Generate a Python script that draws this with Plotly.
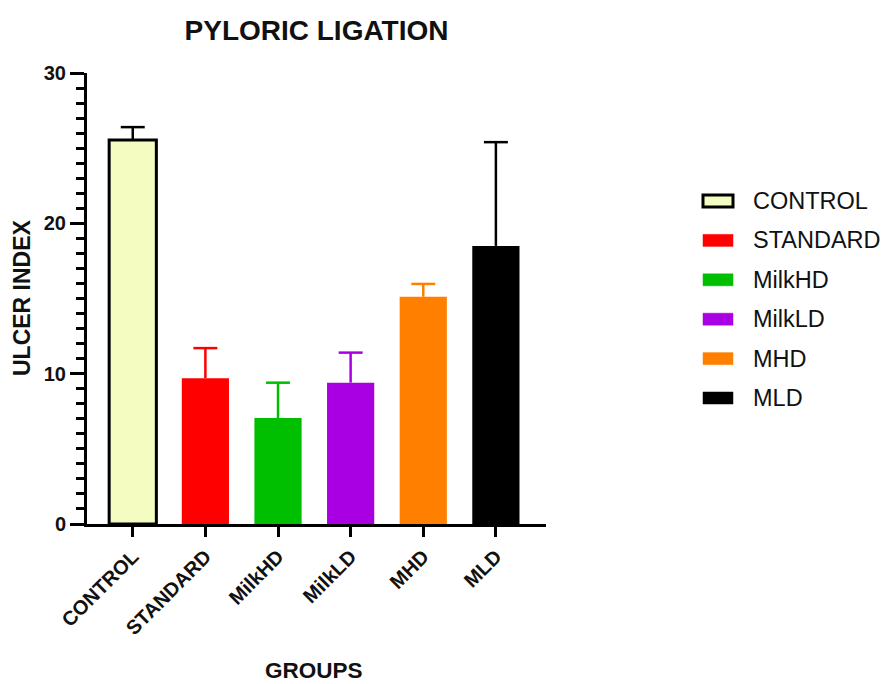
import plotly.graph_objects as go

# Ulcer index by group, pyloric ligation model (mean and upper error)
groups = ["CONTROL", "STANDARD", "MilkHD", "MilkLD", "MHD", "MLD"]
means = [25.55, 9.7, 7.05, 9.4, 15.12, 18.5]
errors = [0.85, 2.0, 2.35, 2.0, 0.85, 6.9]
fill_colors = ["#f4fcc2", "#ff0000", "#00bf00", "#a900e3", "#ff8000", "#000000"]
edge_colors = ["#000000", "#ff0000", "#00bf00", "#a900e3", "#ff8000", "#000000"]
edge_widths = [3, 0, 0, 0, 0, 0]
err_colors = ["#000000", "#ff0000", "#00bf00", "#a900e3", "#ff8000", "#000000"]
y_ticks = [0, 10, 20, 30]

W, H = 883, 684
L, R, T, B = 87, 546, 73, 524  # plot area in pixels
X_RANGE = [-0.63, 5.69]
CAP = 0.165  # half cap width, in category units

FONT = "Liberation Sans, Arial, Helvetica, sans-serif"

positions = list(range(len(groups)))

fig = go.Figure()
for i, m, fc, ec, ew in zip(positions, means, fill_colors, edge_colors, edge_widths):
    fig.add_trace(go.Bar(
        x=[i], y=[m], width=0.65,
        marker=dict(color=fc, line=dict(color=ec, width=ew)),
        showlegend=False, hoverinfo="skip",
    ))

# upper-only error bars: stem from the bar top plus a cap
for i, m, e, c in zip(positions, means, errors, err_colors):
    top = m + e
    fig.add_trace(go.Scatter(
        x=[i, i, None, i - CAP, i + CAP],
        y=[m, top, None, top, top],
        mode="lines", line=dict(color=c, width=2.5),
        showlegend=False, hoverinfo="skip",
    ))


def px_x(p):
    return (p - L) / (R - L)


def px_y(p):
    return (B - p) / (B - T)


# legend: wide swatches with labels
row0, row_step = 201, 39.4
for k, (g, fc, ec, ew) in enumerate(zip(groups, fill_colors, edge_colors, edge_widths)):
    yc = row0 + k * row_step
    fig.add_shape(
        type="rect", xref="paper", yref="paper",
        x0=px_x(703), x1=px_x(733), y0=px_y(yc + 6), y1=px_y(yc - 6),
        fillcolor=fc, line=dict(color=ec if ew else fc, width=ew if ew else 0.5),
    )
    fig.add_annotation(
        text=g, xref="paper", yref="paper", x=px_x(751), y=px_y(yc),
        xanchor="left", yanchor="middle", showarrow=False,
        font=dict(family=FONT, size=23.5, color="#111111"),
    )

# axis titles
fig.add_annotation(
    text="<b>ULCER INDEX</b>", xref="paper", yref="paper",
    x=px_x(22), y=px_y(298), textangle=-90, showarrow=False,
    xanchor="center", yanchor="middle",
    font=dict(family=FONT, size=23, color="#111111"),
)
fig.add_annotation(
    text="<b>GROUPS</b>", xref="paper", yref="paper",
    x=px_x(314), y=px_y(670), showarrow=False,
    xanchor="center", yanchor="middle",
    font=dict(family=FONT, size=22.5, color="#111111"),
)

fig.update_layout(
    width=W, height=H,
    margin=dict(l=L, r=W - R, t=T, b=H - B, pad=0),
    paper_bgcolor="white", plot_bgcolor="white",
    barmode="overlay",
    title=dict(
        text="<b>PYLORIC LIGATION</b>", x=0.5, xref="paper",
        y=1 - 30 / H, yref="container", xanchor="center", yanchor="middle",
        font=dict(family=FONT, size=28, color="#111111"),
    ),
)

fig.update_xaxes(
    range=X_RANGE, tickvals=positions, ticktext=groups,
    showline=True, linecolor="black", linewidth=3,
    ticks="outside", ticklen=10, tickwidth=3, tickcolor="black",
    tickangle=-45, showgrid=False, zeroline=False,
    tickfont=dict(family=FONT, size=20, color="#111111", weight="bold"),
)
fig.update_yaxes(
    range=[0, 30], tickvals=y_ticks,
    showline=True, linecolor="black", linewidth=3,
    ticks="outside", ticklen=14, tickwidth=3, tickcolor="black",
    minor=dict(dtick=1, ticks="outside", ticklen=8, tickwidth=3, tickcolor="black"),
    showgrid=False, zeroline=False,
    tickfont=dict(family=FONT, size=20, color="#111111", weight="bold"),
)

fig.write_html("out.html")
